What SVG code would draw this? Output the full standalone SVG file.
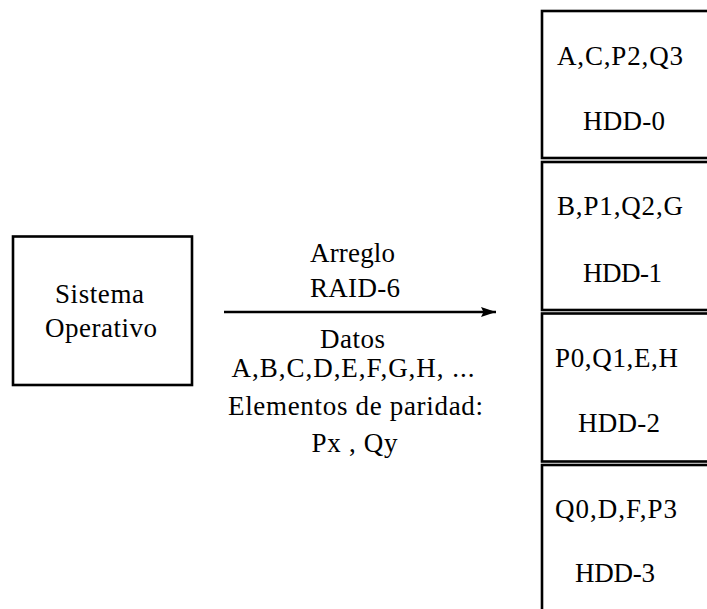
<svg xmlns="http://www.w3.org/2000/svg" width="707" height="609" viewBox="0 0 707 609">
<style>
text{font-family:"Liberation Serif","Times New Roman",serif;font-size:27px;fill:#000}
.box{fill:#fff;stroke:#000;stroke-width:2.6}
.conn{stroke:#000;stroke-width:2.5;fill:none}
</style>
<defs>
<marker id="ah" markerWidth="16" markerHeight="12" refX="15" refY="6" orient="auto" markerUnits="userSpaceOnUse">
<path d="M0,1 L15,6 L0,11 L2.5,6 Z" fill="#000"/>
</marker>
</defs>
<rect width="707" height="609" fill="#fff"/>
<g id="so">
<rect class="box" x="13" y="236.5" width="179" height="148.5"/>
<text x="55" y="303" textLength="89">Sistema</text>
<text x="45" y="337" textLength="112">Operativo</text>
</g>
<g id="hdd0">
<rect class="box" x="542" y="11" width="200" height="147"/>
<text x="557" y="65" textLength="126">A,C,P2,Q3</text>
<text x="583" y="130" textLength="82">HDD-0</text>
</g>
<g id="hdd1">
<rect class="box" x="542" y="162" width="200" height="148"/>
<text x="557" y="215" textLength="126">B,P1,Q2,G</text>
<text x="583" y="282" textLength="79">HDD-1</text>
</g>
<g id="hdd2">
<rect class="box" x="542" y="313.5" width="200" height="148"/>
<text x="555" y="367" textLength="123">P0,Q1,E,H</text>
<text x="578" y="432" textLength="82">HDD-2</text>
</g>
<g id="hdd3">
<rect class="box" x="542" y="465" width="200" height="160"/>
<text x="555" y="518" textLength="122">Q0,D,F,P3</text>
<text x="575" y="582" textLength="80">HDD-3</text>
</g>
<g id="connectors">
<line class="conn" x1="224" y1="312" x2="496" y2="312" marker-end="url(#ah)"/>
<text x="310" y="262" textLength="85">Arreglo</text>
<text x="310" y="297" textLength="90">RAID-6</text>
<text x="320" y="348" textLength="65">Datos</text>
<text x="231.5" y="377" textLength="243">A,B,C,D,E,F,G,H, ...</text>
<text x="228" y="415" textLength="255">Elementos de paridad:</text>
<text x="311.5" y="452" textLength="86">Px , Qy</text>
</g>
</svg>
